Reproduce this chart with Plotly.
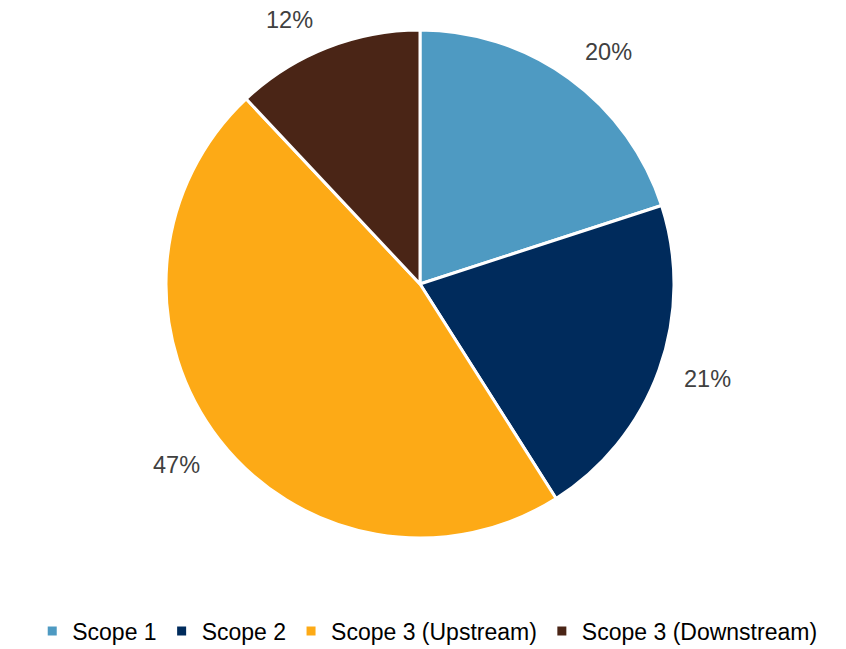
import math
import plotly.graph_objects as go

# Emissions share by scope
categories = ["Scope 1", "Scope 2", "Scope 3 (Upstream)", "Scope 3 (Downstream)"]
shares = [20, 21, 47, 12]
colors = ["#4E9AC2", "#002B5C", "#FDAA16", "#4A2516"]

W, H = 846, 649
cx, cy, radius = 420, 284, 254   # pie centre and domain half-size in pixels
label_r = 300                    # distance of percentage labels from centre
# small pixel nudges (right, down) so labels clear the slices neatly
label_nudge = [(12, 11), (5, -7), (-6, -3), (-20, 15)]

fig = go.Figure(
    go.Pie(
        labels=categories,
        values=shares,
        sort=False,
        direction="clockwise",
        rotation=0,
        marker=dict(colors=colors, line=dict(color="white", width=3)),
        textinfo="none",
        hoverinfo="label+percent",
        domain=dict(
            x=[(cx - radius) / W, (cx + radius) / W],
            y=[(H - cy - radius) / H, (H - cy + radius) / H],
        ),
    )
)

# Percentage labels placed outside each slice around its mid-angle
total = sum(shares)
cum = 0
annotations = []
for val, (nx, ny) in zip(shares, label_nudge):
    mid = (cum + val / 2) / total * 2 * math.pi
    cum += val
    px = cx + label_r * math.sin(mid)
    py = cy - label_r * math.cos(mid)
    annotations.append(
        dict(
            x=px / W,
            y=(H - py) / H,
            xref="paper",
            yref="paper",
            xshift=nx,
            yshift=-ny,
            text=f"{round(val / total * 100)}%",
            showarrow=False,
            xanchor="center",
            yanchor="middle",
            font=dict(family="Liberation Sans, Arial, sans-serif", size=23.5, color="#404040"),
        )
    )

fig.update_layout(
    width=W,
    height=H,
    margin=dict(l=0, r=0, t=0, b=0, autoexpand=False),
    paper_bgcolor="white",
    plot_bgcolor="white",
    annotations=annotations,
    showlegend=True,
    legend=dict(
        orientation="h",
        x=0.505,
        xanchor="center",
        y=(H - 631) / H,
        yanchor="middle",
        font=dict(family="Liberation Sans, Arial, sans-serif", size=23, color="#000000"),
        itemwidth=30,
        tracegroupgap=0,
    ),
)

fig.write_html("out.html")
